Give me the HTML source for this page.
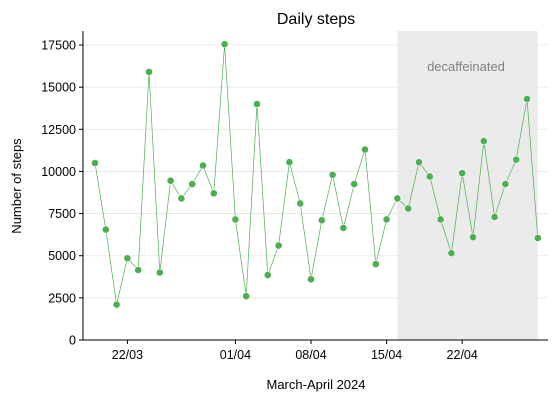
<!DOCTYPE html>
<html><head><meta charset="utf-8"><style>
body{margin:0;background:#fff;font-family:"Liberation Sans","DejaVu Sans",sans-serif}
</style></head><body>
<svg width="558" height="401" xmlns="http://www.w3.org/2000/svg">
<g id="g"></g>
</svg>
<script>
const startDay = 19; // 19 March
const steps = [10500,6550,2100,4850,4150,15900,4000,9450,8400,9250,10350,8700,17550,7150,2600,14000,3850,5600,10550,8100,3600,7100,9800,6650,9250,11300,4500,7150,8400,7800,10550,9700,7150,5150,9900,6100,11800,7300,9250,10700,14300,6050];
const yTicks = [0,2500,5000,7500,10000,12500,15000,17500];
const xTickDays = [3,13,20,27,34]; // day offsets from 19/03
const xTickLabels = ["22/03","01/04","08/04","15/04","22/04"];
const shadeDays = [28,41];
const NS="http://www.w3.org/2000/svg", g=document.getElementById('g');
const X=d=>95+d*10.8, Y=v=>340-v/17500*295;
function el(t,a,txt){const e=document.createElementNS(NS,t);for(const k in a)e.setAttribute(k,a[k]);if(txt!=null)e.textContent=txt;g.appendChild(e);return e;}
let e=el('rect',{x:X(shadeDays[0]),y:31,width:X(shadeDays[1])-X(shadeDays[0]),height:309,fill:'#ebebeb'});


e=el('text',{x:466,y:71,'text-anchor':'middle','font-size':13,fill:'#808080'},'decaffeinated');


yTicks.forEach(v=>{
 e=el('line',{x1:83,x2:548,y1:Y(v),y2:Y(v),stroke:'#e5e5e5','stroke-width':0.8});
 
 
 el('line',{x1:79,x2:83,y1:Y(v),y2:Y(v),stroke:'#000'});
 e=el('text',{x:76,y:Y(v)+4.5,'text-anchor':'end','font-size':12.5},v===0?'0':String(v));
 
 
});
xTickDays.forEach((d,i)=>{
 el('line',{x1:X(d),x2:X(d),y1:340,y2:344,stroke:'#000'});
 e=el('text',{x:X(d),y:359,'text-anchor':'middle','font-size':12.5},xTickLabels[i]);
 
 
});
e=el('line',{x1:83,x2:83,y1:31,y2:340,stroke:'#000'});


e=el('line',{x1:83,x2:548,y1:340,y2:340,stroke:'#000'});


e=el('polyline',{points:steps.map((v,i)=>X(i)+','+Y(v)).join(' '),fill:'none',stroke:'#4caf50','stroke-width':0.7});


steps.forEach((v,i)=>{
 e=el('circle',{cx:X(i),cy:Y(v),r:3.6,fill:'#4caf50',stroke:'#fff','stroke-width':0.6});
 
 
});
e=el('text',{x:316,y:24,'text-anchor':'middle','font-size':16},'Daily steps');


e=el('text',{x:316,y:389,'text-anchor':'middle','font-size':13},'March-April 2024');


e=el('text',{x:21,y:186,'text-anchor':'middle','font-size':13,transform:'rotate(-90 21 186)'},'Number of steps');


</script>
</body></html>
